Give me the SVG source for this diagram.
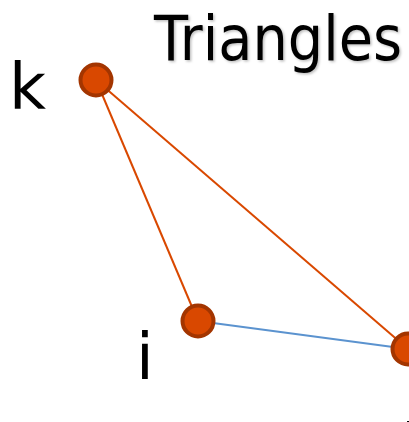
<svg xmlns="http://www.w3.org/2000/svg" width="409" height="422" viewBox="0 0 409 422">
<defs>
<filter id="shadow" x="-5%" y="-10%" width="115%" height="130%">
<feDropShadow dx="1.5" dy="1.5" stdDeviation="0.8" flood-color="#000" flood-opacity="0.25"/>
</filter>
</defs>
<style>
.lbl{font-family:"DejaVu Sans",Verdana,sans-serif;fill:#000}
.node{fill:#d94800;stroke:#a33500;stroke-width:4}
.e-or{stroke:#d94800;stroke-width:2;fill:none}
.e-bl{stroke:#5b93cf;stroke-width:2;fill:none}
</style>
<rect width="409" height="422" fill="#fff"/>
<g id="title">
<text class="lbl" x="154" y="60" font-size="62" textLength="248" lengthAdjust="spacingAndGlyphs" filter="url(#shadow)">Triangles</text>
</g>
<g id="connectors">
<line class="e-or" x1="96" y1="80" x2="198" y2="321"/>
<line class="e-or" x1="96" y1="80" x2="408" y2="349"/>
<line class="e-bl" x1="198" y1="321" x2="408" y2="349"/>
</g>
<g id="node-k">
<circle class="node" cx="96" cy="80" r="15.5"/>
<text class="lbl" x="9" y="109" font-size="64">k</text>
</g>
<g id="node-i">
<circle class="node" cx="198" cy="321" r="15.5"/>
<text class="lbl" x="136" y="379" font-size="64">i</text>
</g>
<g id="node-j">
<circle class="node" cx="408" cy="349" r="15.5"/>
<text class="lbl" x="401" y="470" font-size="64">j</text>
</g>
</svg>
